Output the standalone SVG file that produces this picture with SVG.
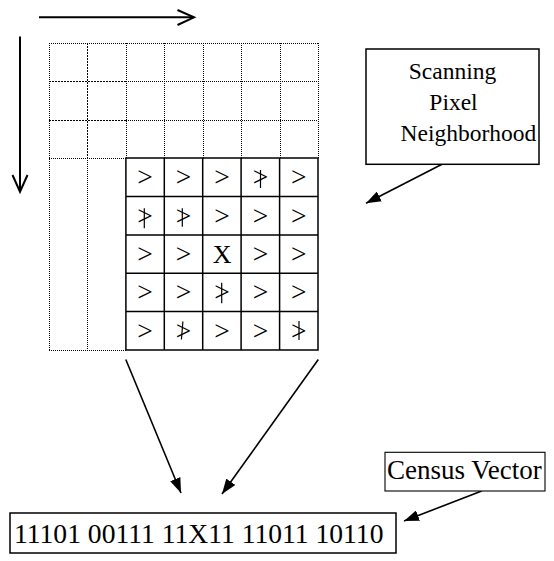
<svg xmlns="http://www.w3.org/2000/svg" width="554" height="561" viewBox="0 0 554 561">
<defs>
<marker id="ah" viewBox="0 0 15 11" refX="15" refY="5.5" markerWidth="15" markerHeight="11" markerUnits="userSpaceOnUse" orient="auto"><path d="M0,0 L15,5.5 L0,11 z" fill="#000"/></marker>
<style>
.t{font-family:"Liberation Serif","Times New Roman",serif;fill:#000}
.gt{font-size:27.5px;text-anchor:middle}
.dot{stroke:#000;stroke-width:1;stroke-dasharray:1 1;fill:none;shape-rendering:crispEdges}
.dk{stroke:#000;stroke-width:1;stroke-dasharray:2 1;fill:none;shape-rendering:crispEdges}
.sg{stroke:#000;stroke-width:1.5;fill:none}
.bar{stroke:#000;stroke-width:1.2}
.box{fill:#fff;stroke:#000;stroke-width:1.5}
.con{stroke:#000;stroke-width:1.6;fill:none}
.scan{stroke:#000;stroke-width:2;fill:none}
</style>
</defs>
<rect width="554" height="561" fill="#fff"/>

<g id="scan-arrows">
<line class="scan" x1="39" y1="17.3" x2="193" y2="17.3"/>
<polyline class="scan" points="177.5,10 194,17.3 177.5,25"/>
<line class="scan" x1="20" y1="36.5" x2="20" y2="190.5"/>
<polyline class="scan" points="12.5,175 20,191.7 27.5,175"/>
</g>

<g id="image-grid">
<path class="dot" d="M49,43 H318 M49,158 H126 M126,81 H318 M126,120 H318 M49,350 H126 M49,43 V350 M87,158 V350 M126,43 V158 M164,43 V158 M203,43 V158 M241,43 V158 M280,43 V158 M318,43 V158"/>
<path class="dk" d="M49,81 H126 M49,120 H126 M87,43 V158"/>
</g>

<g id="neighborhood">
<path class="sg" d="M125.9,158.1 H318 V350 H125.9 Z M125.9,196.5 H318 M125.9,234.9 H318 M125.9,273.3 H318 M125.9,311.6 H318 M164.3,158.1 V350 M202.7,158.1 V350 M241.1,158.1 V350 M279.6,158.1 V350"/>
<g class="t gt">
<text x="145.1" y="186.2">&gt;</text><text x="183.5" y="186.2">&gt;</text><text x="221.9" y="186.2">&gt;</text><text x="260.4" y="186.2">&gt;</text><text x="298.8" y="186.2">&gt;</text>
<text x="145.1" y="224.6">&gt;</text><text x="183.5" y="224.6">&gt;</text><text x="221.9" y="224.6">&gt;</text><text x="260.4" y="224.6">&gt;</text><text x="298.8" y="224.6">&gt;</text>
<text x="145.1" y="263">&gt;</text><text x="183.5" y="263">&gt;</text><text x="222.2" y="263.3" style="font-size:26px">X</text><text x="260.4" y="263">&gt;</text><text x="298.8" y="263">&gt;</text>
<text x="145.1" y="301.4">&gt;</text><text x="183.5" y="301.4">&gt;</text><text x="221.9" y="301.4">&gt;</text><text x="260.4" y="301.4">&gt;</text><text x="298.8" y="301.4">&gt;</text>
<text x="145.1" y="339.7">&gt;</text><text x="183.5" y="339.7">&gt;</text><text x="221.9" y="339.7">&gt;</text><text x="260.4" y="339.7">&gt;</text><text x="298.8" y="339.7">&gt;</text>
</g>
<path class="bar" d="M260.5,170 V188 M144.3,208.3 V228.3 M182.3,208.3 V226.7 M221.7,282.7 V303.3 M182.9,321.5 L181.4,339.5 M299,321 V340"/>
</g>

<g id="connectors">
<line class="con" x1="442" y1="164.3" x2="366" y2="203.3" marker-end="url(#ah)"/>
<line class="con" x1="125.8" y1="359.5" x2="181" y2="493" marker-end="url(#ah)"/>
<line class="con" x1="318.3" y1="359.5" x2="222" y2="494" marker-end="url(#ah)"/>
<line class="con" x1="481.7" y1="491" x2="404" y2="521" marker-end="url(#ah)"/>
</g>

<g id="scanning-label">
<rect class="box" x="366" y="49" width="173" height="115.3"/>
<text class="t" font-size="23.5" text-anchor="middle" x="452.5" y="79">Scanning</text>
<text class="t" font-size="23.5" text-anchor="middle" x="453.5" y="110">Pixel</text>
<text class="t" font-size="23.5" text-anchor="middle" x="468.5" y="141">Neighborhood</text>
</g>

<g id="census-label">
<rect class="box" x="385" y="452.3" width="160" height="38.7" style="stroke-width:1.1"/>
<text class="t" font-size="27" x="387" y="479.3">Census Vector</text>
</g>

<g id="census-vector">
<rect class="box" x="10" y="513" width="386" height="40"/>
<text class="t" font-size="27.6" x="14" y="542.7">11101 00111 11X11 11011 10110</text>
</g>
</svg>
